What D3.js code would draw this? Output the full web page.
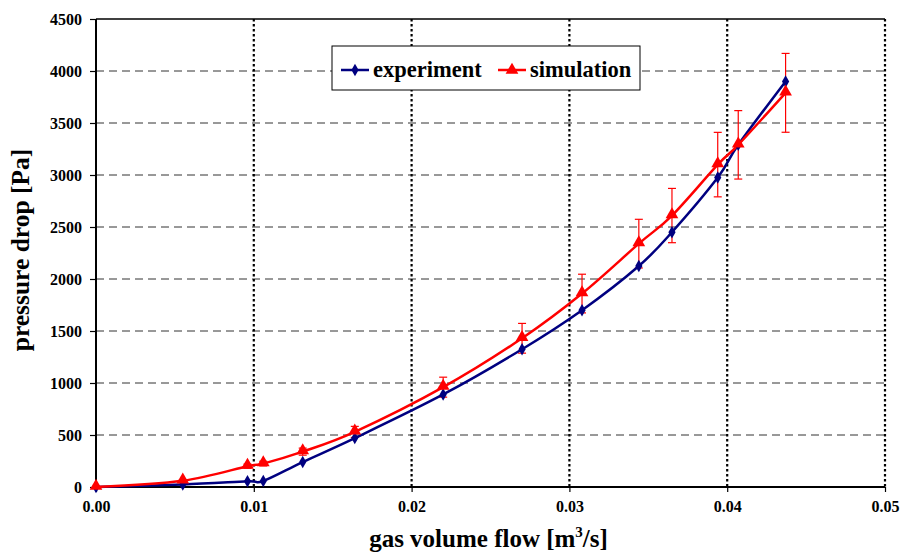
<!DOCTYPE html>
<html>
<head>
<meta charset="utf-8">
<script src="https://cdn.jsdelivr.net/npm/d3@7"></script>
<style>
  body { margin: 0; background: #fff; }
  svg text { font-family: "Liberation Serif", "Times New Roman", serif; font-weight: bold; }
</style>
</head>
<body>
<svg id="Chart" width="912" height="554"></svg>
<script>
// data
let flow = [0, 0.0055, 0.0096, 0.0106, 0.0131, 0.0164, 0.0220, 0.0270, 0.0308, 0.0344, 0.0365, 0.0394, 0.0407, 0.0437]
let experiment = [0, 25, 55, 58, 240, 470, 890, 1325, 1700, 2125, 2450, 2975, 3290, 3900]
let simulation = [0, 60, 200, 225, 340, 530, 960, 1430, 1860, 2340, 2610, 3100, 3290, 3790]
let errorFraction = 0.1
let xTicks = [0, 0.01, 0.02, 0.03, 0.04, 0.05]
let yTicks = [0, 500, 1000, 1500, 2000, 2500, 3000, 3500, 4000, 4500]

let svg = d3.select("#Chart")

function getConfig(){
    let margin = { top: 19, bottom: 67, left: 96, right: 27 }
    let width = 912, height = 554
    let bodyWidth = width - margin.left - margin.right
    let bodyHeight = height - margin.top - margin.bottom
    return { width, height, margin, bodyWidth, bodyHeight }
}

let config = getConfig()
let { margin, bodyWidth, bodyHeight } = config

let xScale = d3.scaleLinear().domain([0, 0.05]).range([0, bodyWidth])
let yScale = d3.scaleLinear().domain([0, 4500]).range([bodyHeight, 0])

let body = svg.append("g").attr("transform", `translate(${margin.left},${margin.top})`)

// horizontal dashed grid
body.selectAll(".hgrid").data(yTicks.filter(d => d > 0 && d < 4500)).enter().append("line")
    .attr("x1", 0).attr("x2", bodyWidth)
    .attr("y1", d => yScale(d)).attr("y2", d => yScale(d))
    .attr("stroke", "#333").attr("stroke-width", 1)
    .attr("stroke-dasharray", "8,5")

// vertical dotted grid
body.selectAll(".vgrid").data(xTicks.filter(d => d > 0)).enter().append("line")
    .attr("x1", d => xScale(d)).attr("x2", d => xScale(d))
    .attr("y1", 0).attr("y2", bodyHeight)
    .attr("stroke", "#000").attr("stroke-width", 2.2)
    .attr("stroke-dasharray", "2.5,2.5")

// top border
body.append("line").attr("x1", 0).attr("x2", bodyWidth).attr("y1", 0).attr("y2", 0)
    .attr("stroke", "#000").attr("stroke-width", 1.5)

// axes
let axisX = d3.axisBottom(xScale).tickValues(xTicks).tickFormat(d3.format(".2f")).tickSize(5).tickPadding(9)
let axisY = d3.axisLeft(yScale).tickValues(yTicks).tickFormat(d3.format("d")).tickSize(6).tickPadding(8)

let gx = body.append("g").attr("transform", `translate(0,${bodyHeight})`).call(axisX)
let gy = body.append("g").call(axisY)
gx.attr("font-family", null).attr("font-size", null)
gy.attr("font-family", null).attr("font-size", null)
gx.select(".domain").attr("stroke-width", 2).attr("d", `M0,0H${bodyWidth}`)
gy.select(".domain").attr("stroke-width", 2).attr("d", `M0,0V${bodyHeight}`)
gx.selectAll("text").style("font-size", "16px").attr("fill", "#000")
gy.selectAll("text").style("font-size", "16px").attr("fill", "#000")
gx.selectAll(".tick line").attr("stroke-width", 1.2)
gy.selectAll(".tick line").attr("stroke-width", 1.2)

// axis titles
let xTitle = svg.append("text")
    .attr("x", margin.left + bodyWidth / 2 - 2).attr("y", 547)
    .attr("text-anchor", "middle").style("font-size", "25px")
xTitle.append("tspan").text("gas volume flow [m")
xTitle.append("tspan").attr("dy", -10).style("font-size", "15px").text("3")
xTitle.append("tspan").attr("dy", 10).text("/s]")

svg.append("text")
    .attr("transform", `translate(29,250) rotate(-90)`)
    .attr("text-anchor", "middle").style("font-size", "25.5px")
    .text("pressure drop [Pa]")

// series
let expData = flow.map((x, i) => ({ x, y: experiment[i] }))
let simData = flow.map((x, i) => ({ x, y: simulation[i] }))

let line = d3.line().x(d => xScale(d.x)).y(d => yScale(d.y)).curve(d3.curveCatmullRom.alpha(0))

// error bars
let err = body.selectAll(".err").data(simData).enter().append("g")
err.append("line")
    .attr("x1", d => xScale(d.x)).attr("x2", d => xScale(d.x))
    .attr("y1", d => yScale(d.y * (1 + errorFraction))).attr("y2", d => yScale(d.y * (1 - errorFraction)))
    .attr("stroke", "#ff0000").attr("stroke-width", 1.2)
err.selectAll(".cap").data(d => [d.y * (1 + errorFraction), d.y * (1 - errorFraction)].map(v => ({ x: d.x, v })))
    .enter().append("line")
    .attr("x1", d => xScale(d.x) - 4).attr("x2", d => xScale(d.x) + 4)
    .attr("y1", d => yScale(d.v)).attr("y2", d => yScale(d.v))
    .attr("stroke", "#ff0000").attr("stroke-width", 1.2)

body.append("path").datum(expData).attr("d", line)
    .attr("fill", "none").attr("stroke", "#000080").attr("stroke-width", 2.5)
body.append("path").datum(simData).attr("d", line)
    .attr("fill", "none").attr("stroke", "#ff0000").attr("stroke-width", 2.5)

let diamond = d3.symbol().type(d3.symbolDiamond).size(45)
let triangle = d3.symbol().type(d3.symbolTriangle).size(70)

body.selectAll(".exp").data(expData).enter().append("path")
    .attr("d", diamond)
    .attr("transform", d => `translate(${xScale(d.x)},${yScale(d.y)})`)
    .attr("fill", "#000080")
body.selectAll(".sim").data(simData).enter().append("path")
    .attr("d", triangle)
    .attr("transform", d => `translate(${xScale(d.x)},${yScale(d.y) - 1})`)
    .attr("fill", "#ff0000")

// legend
let legend = svg.append("g").attr("transform", "translate(332,46)")
legend.append("rect").attr("width", 308).attr("height", 44)
    .attr("fill", "#fff").attr("stroke", "#000").attr("stroke-width", 1)
let items = [
    { name: "experiment", color: "#000080", sym: diamond, x: 9 },
    { name: "simulation", color: "#ff0000", sym: triangle, x: 166 }
]
let li = legend.selectAll(".li").data(items).enter().append("g")
    .attr("transform", d => `translate(${d.x},24)`)
li.append("line").attr("x1", 0).attr("x2", 28).attr("stroke", d => d.color).attr("stroke-width", 2.5)
li.append("path").attr("d", d => d.sym()).attr("transform", "translate(14,0)").attr("fill", d => d.color)
li.append("text").attr("x", 32).attr("y", 7).style("font-size", "22.5px").text(d => d.name)
</script>
</body>
</html>
